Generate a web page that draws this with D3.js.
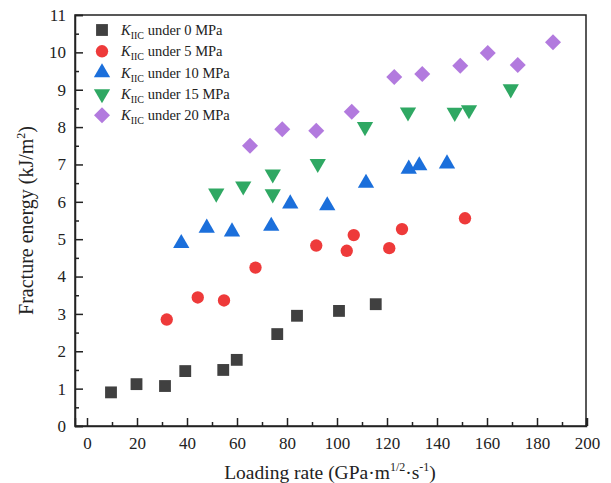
<!DOCTYPE html>
<html>
<head>
<meta charset="utf-8">
<script src="https://cdn.jsdelivr.net/npm/d3@7"></script>
<style>
  body { margin: 0; background: #fff; }
  svg text { font-family: "Liberation Serif", "Times New Roman", serif; fill: #222; }
</style>
</head>
<body>
<div id="chart"></div>
<script>
// Data
var pressures = ["0 MPa", "5 MPa", "10 MPa", "15 MPa", "20 MPa"];

var rate0 = [9.6, 19.8, 31.2, 39.3, 54.5, 59.9, 76.1, 84, 100.8, 115.5];
var energy0 = [0.90, 1.12, 1.07, 1.47, 1.50, 1.77, 2.46, 2.95, 3.08, 3.26];

var rate5 = [31.9, 44.3, 54.8, 67.4, 91.7, 103.9, 106.7, 120.9, 126, 151.2];
var energy5 = [2.85, 3.44, 3.36, 4.24, 4.83, 4.69, 5.11, 4.76, 5.27, 5.56];

var rate10 = [37.7, 47.9, 58, 73.7, 81.3, 96.1, 111.6, 128.7, 132.9, 144];
var energy10 = [4.89, 5.30, 5.20, 5.35, 5.95, 5.90, 6.50, 6.88, 6.97, 7.02];

var rate15 = [51.7, 62.5, 74.3, 74.3, 92.3, 111.2, 128.4, 147.1, 152.8, 169.5];
var energy15 = [6.23, 6.42, 6.74, 6.21, 7.02, 8.01, 8.40, 8.39, 8.46, 9.02];

var rate20 = [65.2, 78.1, 91.7, 105.9, 122.9, 134.1, 149.3, 160.3, 172.3, 186.4];
var energy20 = [7.50, 7.94, 7.90, 8.41, 9.34, 9.42, 9.64, 9.98, 9.66, 10.27];

var xTicks = [0, 20, 40, 60, 80, 100, 120, 140, 160, 180, 200];
var yTicks = [0, 1, 2, 3, 4, 5, 6, 7, 8, 9, 10, 11];

var W = 611, H = 483;
var plotL = 75, plotR = 586, plotT = 15, plotB = 426;

var svg = d3.select("#chart").append("svg")
    .attr("width", W)
    .attr("height", H);

var x = d3.scaleLinear().domain([-4.8, 199.6]).range([plotL, plotR]);
var y = d3.scaleLinear().domain([0, 11]).range([plotB, plotT]);

// series styles
var series = [
    { rate: rate0, energy: energy0, color: "#404040", type: d3.symbolSquare, size: 140, rot: 0 },
    { rate: rate5, energy: energy5, color: "#ee3a3a", type: d3.symbolCircle, size: 120, rot: 0 },
    { rate: rate10, energy: energy10, color: "#1b6fdb", type: d3.symbolTriangle, size: 115, rot: 0 },
    { rate: rate15, energy: energy15, color: "#2fa863", type: d3.symbolTriangle, size: 115, rot: 180 },
    { rate: rate20, energy: energy20, color: "#b27ade", type: d3.symbolSquare, size: 128, rot: 45 }
];

// frame
svg.append("rect")
    .attr("x", plotL).attr("y", plotT)
    .attr("width", plotR - plotL).attr("height", plotB - plotT)
    .attr("fill", "none")
    .attr("stroke", "#222")
    .attr("stroke-width", 1.5);

// bottom axis, ticks pointing inward
var xAxis = d3.axisBottom(x).tickValues(xTicks).tickSize(-8).tickPadding(11);
var gx = svg.append("g")
    .attr("transform", "translate(0," + plotB + ")")
    .call(xAxis);
gx.select(".domain").attr("stroke", "#222").attr("stroke-width", 1.5);
gx.selectAll(".tick line").attr("stroke", "#222").attr("stroke-width", 1.5);
gx.selectAll("text").attr("font-size", "17px").attr("fill", "#222");

var xMinor = d3.axisBottom(x).tickValues(xTicks.slice(0, -1).map(function(d) { return d + 10; }))
    .tickSize(-4).tickFormat("");
var gxm = svg.append("g").attr("transform", "translate(0," + plotB + ")").call(xMinor);
gxm.select(".domain").remove();
gxm.selectAll(".tick line").attr("stroke", "#222").attr("stroke-width", 1.5);

// left axis
var yAxis = d3.axisLeft(y).tickValues(yTicks).tickSize(-8).tickPadding(9);
var gy = svg.append("g")
    .attr("transform", "translate(" + plotL + ",0)")
    .call(yAxis);
gy.select(".domain").attr("stroke", "#222").attr("stroke-width", 1.5);
gy.selectAll(".tick line").attr("stroke", "#222").attr("stroke-width", 1.5);
gy.selectAll("text").attr("font-size", "17px").attr("fill", "#222");

var yMinor = d3.axisLeft(y).tickValues(yTicks.slice(0, -1).map(function(d) { return d + 0.5; }))
    .tickSize(-4).tickFormat("");
var gym = svg.append("g").attr("transform", "translate(" + plotL + ",0)").call(yMinor);
gym.select(".domain").remove();
gym.selectAll(".tick line").attr("stroke", "#222").attr("stroke-width", 1.5);

// points
series.forEach(function(s) {
    var pts = s.rate.map(function(r, i) { return { x: r, y: s.energy[i] }; });
    svg.append("g").selectAll("path")
        .data(pts)
        .enter()
        .append("path")
        .attr("d", d3.symbol().type(s.type).size(s.size))
        .attr("transform", function(d) {
            return "translate(" + x(d.x) + "," + y(d.y) + ") rotate(" + s.rot + ")";
        })
        .attr("fill", s.color);
});

// legend
var legend = svg.append("g");
series.forEach(function(s, i) {
    var ly = 30 + i * 21.3;
    legend.append("path")
        .attr("d", d3.symbol().type(s.type).size(s.size))
        .attr("transform", "translate(102," + ly + ") rotate(" + s.rot + ")")
        .attr("fill", s.color);
    var t = legend.append("text")
        .attr("x", 121)
        .attr("y", ly + 5)
        .attr("font-size", "14.5px");
    t.append("tspan").attr("font-style", "italic").text("K");
    t.append("tspan").attr("font-size", "10px").attr("dy", 4).text("IIC");
    t.append("tspan").attr("dy", -4).text(" under " + pressures[i]);
});

// axis titles
svg.append("text")
    .attr("transform", "translate(33," + ((plotT + plotB) / 2) + ") rotate(-90)")
    .attr("text-anchor", "middle")
    .attr("font-size", "20px")
    .call(function(t) {
        t.append("tspan").text("Fracture energy (kJ/m");
        t.append("tspan").attr("font-size", "12px").attr("dy", -8).text("2");
        t.append("tspan").attr("dy", 8).text(")");
    });

svg.append("text")
    .attr("x", 330)
    .attr("y", 479)
    .attr("text-anchor", "middle")
    .attr("font-size", "19.5px")
    .call(function(t) {
        t.append("tspan").text("Loading rate (GPa\u00b7m");
        t.append("tspan").attr("font-size", "12px").attr("dy", -8).text("1/2");
        t.append("tspan").attr("dy", 8).text("\u00b7s");
        t.append("tspan").attr("font-size", "12px").attr("dy", -8).text("-1");
        t.append("tspan").attr("dy", 8).text(")");
    });
</script>
</body>
</html>
